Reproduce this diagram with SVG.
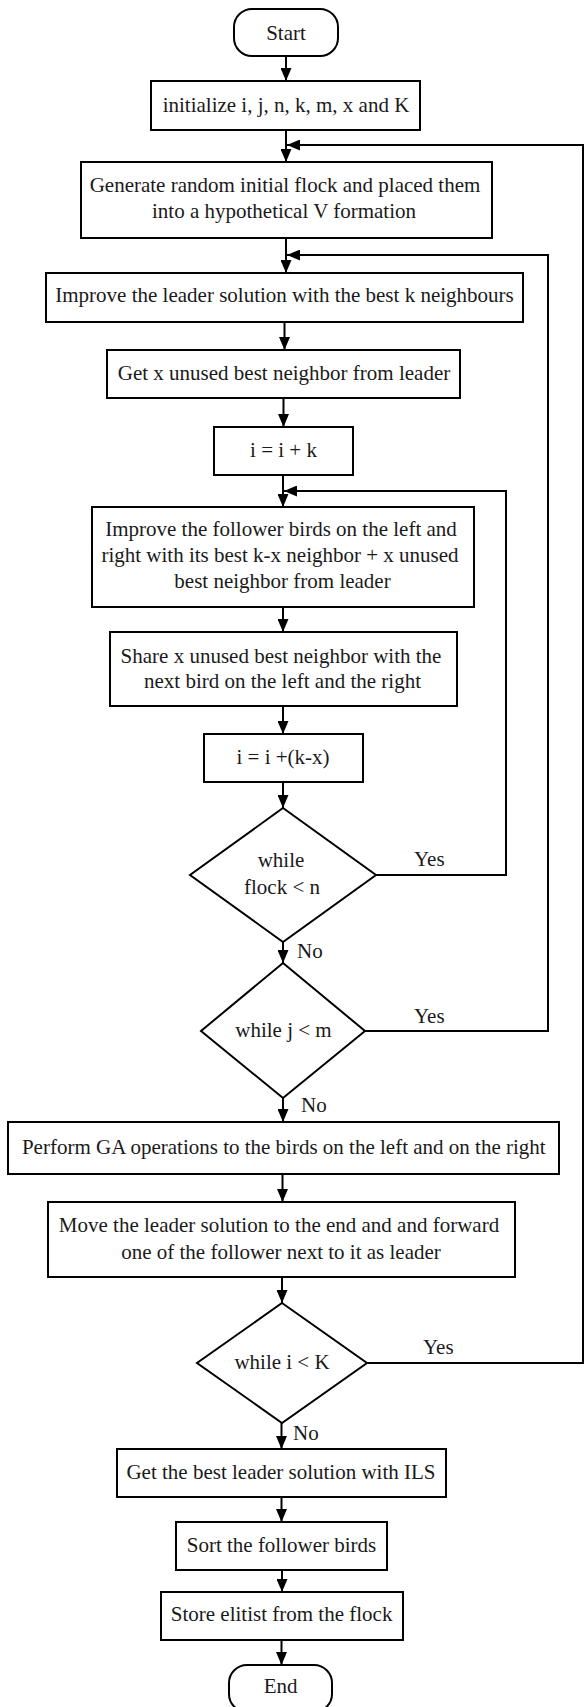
<svg xmlns="http://www.w3.org/2000/svg" width="584" height="1707" viewBox="0 0 584 1707">
<style>
.box{fill:#fff;stroke:#000;stroke-width:2}
.ln{fill:none;stroke:#000;stroke-width:2}
text{font-family:"Liberation Serif","Times New Roman",serif;font-size:21px;fill:#1a1a1a;text-anchor:middle}
.lab{text-anchor:start}
</style>
<defs>
<marker id="ah" markerUnits="userSpaceOnUse" markerWidth="13" markerHeight="11" viewBox="0 0 13 11" refX="13" refY="5.5" orient="auto">
<path d="M0,0 L13,5.5 L0,11 z" fill="#000"/>
</marker>
</defs>
<rect width="584" height="1707" fill="#fff"/>
<g id="connectors">
<path class="ln" d="M286,56 V81" marker-end="url(#ah)"/>
<path class="ln" d="M286,130 V162" marker-end="url(#ah)"/>
<path class="ln" d="M367,1363 H583 V145 H287" marker-end="url(#ah)"/>
<path class="ln" d="M286,238 V273" marker-end="url(#ah)"/>
<path class="ln" d="M365,1031 H548 V255 H287" marker-end="url(#ah)"/>
<path class="ln" d="M284.5,322 V350" marker-end="url(#ah)"/>
<path class="ln" d="M283.5,398 V427" marker-end="url(#ah)"/>
<path class="ln" d="M283,475 V507" marker-end="url(#ah)"/>
<path class="ln" d="M376,875 H506 V491 H284" marker-end="url(#ah)"/>
<path class="ln" d="M283,607 V632" marker-end="url(#ah)"/>
<path class="ln" d="M283,706 V734" marker-end="url(#ah)"/>
<path class="ln" d="M283,782 V808" marker-end="url(#ah)"/>
<path class="ln" d="M283,942 V963" marker-end="url(#ah)"/>
<path class="ln" d="M283,1098 V1122" marker-end="url(#ah)"/>
<path class="ln" d="M282.5,1174 V1202" marker-end="url(#ah)"/>
<path class="ln" d="M282,1277 V1303" marker-end="url(#ah)"/>
<path class="ln" d="M281.5,1423 V1449" marker-end="url(#ah)"/>
<path class="ln" d="M281.5,1497 V1522" marker-end="url(#ah)"/>
<path class="ln" d="M282,1570 V1592" marker-end="url(#ah)"/>
<path class="ln" d="M281.5,1640 V1665" marker-end="url(#ah)"/>
<text class="lab" x="297" y="958">No</text>
<text class="lab" x="301" y="1112">No</text>
<text class="lab" x="293" y="1440">No</text>
<text class="lab" x="414" y="866">Yes</text>
<text class="lab" x="414" y="1023">Yes</text>
<text class="lab" x="423" y="1354">Yes</text>
</g>
<g id="start"><rect class="box" x="234" y="9" width="104" height="47" rx="18"/><text x="286" y="40">Start</text></g>
<g id="init"><rect class="box" x="151" y="81" width="269" height="49"/><text x="286" y="111.5">initialize i, j, n, k, m, x and K</text></g>
<g id="generate"><rect class="box" x="81" y="162" width="411" height="76"/><text x="285" y="192">Generate random initial flock and placed them</text><text x="284" y="218">into a hypothetical V formation</text></g>
<g id="improveLeader"><rect class="box" x="46" y="273" width="477" height="49"/><text x="284.5" y="302">Improve the leader solution with the best k neighbours</text></g>
<g id="getX"><rect class="box" x="107" y="350" width="353" height="48"/><text x="284" y="380">Get x unused best neighbor from leader</text></g>
<g id="iik"><rect class="box" x="214" y="427" width="139" height="48"/><text x="283.5" y="457">i = i + k</text></g>
<g id="follower"><rect class="box" x="92" y="507" width="382" height="100"/><text x="281" y="536">Improve the follower birds on the left and</text><text x="280" y="562">right with its best k-x neighbor + x unused</text><text x="282.5" y="588">best neighbor from leader</text></g>
<g id="share"><rect class="box" x="110" y="632" width="347" height="74"/><text x="281" y="663">Share x unused best neighbor with the</text><text x="282.5" y="688">next bird on the left and the right</text></g>
<g id="iikx"><rect class="box" x="204" y="734" width="159" height="48"/><text x="283" y="764">i = i +(k-x)</text></g>
<g id="whileFlock"><polygon class="box" points="283,808 376,875 283,942 190,875"/><text x="281" y="867">while</text><text x="282" y="894">flock &lt; n</text></g>
<g id="whileJ"><polygon class="box" points="283,963 365,1031 283,1098 201,1031"/><text x="283.5" y="1037">while j &lt; m</text></g>
<g id="perform"><rect class="box" x="8" y="1122" width="551" height="52"/><text x="283.8" y="1154">Perform GA operations to the birds on the left and on the right</text></g>
<g id="move"><rect class="box" x="48" y="1202" width="467" height="75"/><text x="279" y="1232">Move the leader solution to the end and and forward</text><text x="281" y="1259">one of the follower next to it as leader</text></g>
<g id="whileI"><polygon class="box" points="282,1303 367,1363 282,1423 197,1363"/><text x="282" y="1369">while i &lt; K</text></g>
<g id="getBest"><rect class="box" x="117" y="1449" width="329" height="48"/><text x="281" y="1479">Get the best leader solution with ILS</text></g>
<g id="sort"><rect class="box" x="176" y="1522" width="211" height="48"/><text x="281.5" y="1552">Sort the follower birds</text></g>
<g id="store"><rect class="box" x="161" y="1592" width="242" height="48"/><text x="281.6" y="1621">Store elitist from the flock</text></g>
<g id="end"><rect class="box" x="229" y="1665" width="103" height="47" rx="18"/><text x="280.7" y="1693">End</text></g>
</svg>
